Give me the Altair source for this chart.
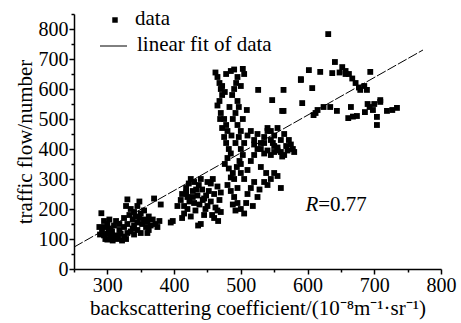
import altair as alt
import pandas as pd

# ---- data ----
bx = [291,288,292,295,297,300,302,300,305,307,303,310,312,315,318,320,322,325,300,308,295,313,318,325,328,330,296,305,289,316,
      330,328,335,333,338,340,342,345,340,348,350,352,345,355,358,350,360,362,365,368,370,372,375,380,378,340,335,345,348,355,360,325,330,338,362,
      395,398,410,412,415,418,420,422,425,428,430,432,435,437,440,436,438,442,445,447,450,452,455,457,460,462,465,468,470,415,420,425,428,433,440,445,450,455,460,465,430,423,448,458,466,470,405,412,418,443,
      462,465,468,470,472,468,465,470,475,478,472,480,475,478,482,485,480,476,482,488,485,490,472,478,485,490,495,493,490,487,495,497,492,488,495,500,497,492,500,503,498,494,500,505,500,483,476,469,486,503,
      480,485,490,495,500,505,510,515,520,525,530,535,540,545,550,555,560,505,510,515,520,525,530,535,540,545,550,555,505,510,515,520,500,495,488,492,508,518,528,538,
      530,535,540,545,550,555,560,565,568,570,575,578,560,565,550,545,555,540,525,520,535,580,572,562,548,
      631,602,619,637,641,652,657,662,667,672,677,679,694,590,607,564,564,592,609,615,624,634,644,661,668,674,665,689,686,693,700,709,709,704,719,727,734,704,503,526,509,547,562,590,612,657,648,685,690,698]
by = [186,140,128,112,100,150,135,118,108,125,165,145,112,100,130,118,95,108,98,95,160,160,150,140,100,120,140,130,115,105,
      232,210,200,180,165,190,175,155,145,170,185,150,130,165,140,120,158,175,145,165,235,150,140,215,160,115,125,210,225,195,120,170,150,135,130,
      155,160,230,250,210,270,240,285,300,260,220,195,245,280,150,145,215,265,235,200,290,260,225,180,250,205,275,230,190,185,200,175,240,265,300,180,210,285,170,195,290,225,245,300,160,255,210,170,255,230,
      655,640,620,600,580,560,545,520,500,480,470,460,440,420,400,385,370,350,335,320,305,300,610,650,660,665,640,620,600,580,560,540,520,500,480,460,440,420,400,380,360,340,320,650,610,540,590,500,445,500,
      280,260,240,220,200,185,250,270,290,240,340,290,280,300,320,310,270,300,330,360,380,400,420,440,460,430,410,395,420,445,460,430,350,270,215,195,220,210,265,320,
      400,385,395,380,390,405,390,380,410,395,415,400,430,450,445,460,470,470,450,415,420,390,430,375,420,
      783,663,657,653,690,673,660,650,635,620,605,597,657,630,603,597,527,553,513,530,540,540,527,503,508,510,540,597,523,540,550,557,563,507,527,530,537,480,667,597,530,563,527,633,520,650,655,610,550,530]

fit_x = [250, 773]
fit_y = [73, 730]

x_major = [300, 400, 500, 600, 700, 800]
x_minor = [250, 350, 450, 550, 650, 750]
y_major = [0, 100, 200, 300, 400, 500, 600, 700, 800]
y_minor = [50, 150, 250, 350, 450, 550, 650, 750, 850]

r_x = [616]
r_y = [213]

FONT = "Liberation Serif"
FS = 20
TFS = 21

pts = pd.DataFrame({"x": bx, "y": by})
fit = pd.DataFrame({"x": fit_x, "y": fit_y})
ann = pd.DataFrame({"x": r_x, "y": r_y})

xs = alt.Scale(domain=[250, 800], nice=False, zero=False)
ys = alt.Scale(domain=[0, 850], nice=False, zero=False)

common = dict(labelFont=FONT, labelFontSize=FS, labelColor="black",
              titleFont=FONT, titleFontSize=TFS, titleFontWeight="normal", titleColor="black",
              domainColor="black", domainWidth=1.5, tickColor="black", tickWidth=1.5, grid=False)

xaxis = alt.Axis(values=x_major, title="backscattering coefficient/(10⁻⁸m⁻¹·sr⁻¹)", orient="bottom",
                 tickSize=5, labelPadding=1, titlePadding=2, labelOverlap=False, labelFlush=False, **common)
yaxis = alt.Axis(values=y_major, title="traffic flow/number", orient="left",
                 tickSize=5, labelPadding=1, titlePadding=3, labelOverlap=False, labelFlush=False, **common)
xminor = alt.Axis(values=x_minor, title="", orient="bottom", labels=False, domain=False, tickSize=3,
                  tickColor="black", tickWidth=1.5, grid=False)
yminor = alt.Axis(values=y_minor, title="", orient="left", labels=False, domain=False, tickSize=3,
                  tickColor="black", tickWidth=1.5, grid=False)

points = alt.Chart(pts).mark_square(size=34, color="black", opacity=1).encode(
    x=alt.X("x:Q", scale=xs, axis=xaxis),
    y=alt.Y("y:Q", scale=ys, axis=yaxis),
)

line = alt.Chart(fit).mark_line(color="black", strokeWidth=1, strokeDash=[10, 2]).encode(
    x=alt.X("x:Q", scale=xs, axis=xminor), y=alt.Y("y:Q", scale=ys, axis=yminor)
)

r1 = alt.Chart(ann).mark_text(text="R", font=FONT, fontSize=TFS, fontStyle="italic", align="right",
                              baseline="middle", color="black").encode(
    x=alt.X("x:Q", scale=xs, axis=None), y=alt.Y("y:Q", scale=ys, axis=None))
r2 = alt.Chart(ann).mark_text(text="=0.77", font=FONT, fontSize=TFS, align="left",
                              baseline="middle", color="black").encode(
    x=alt.X("x:Q", scale=xs, axis=None), y=alt.Y("y:Q", scale=ys, axis=None))

# legend (decoration, placed in pixels)
leg_sq = alt.Chart(ann).mark_square(size=30, color="black", opacity=1).encode(
    x=alt.value(41), y=alt.value(6))
leg_t1 = alt.Chart(ann).mark_text(text="data", font=FONT, fontSize=TFS, align="left",
                                  baseline="middle", color="black").encode(
    x=alt.value(61), y=alt.value(5))
leg_ln = alt.Chart(ann).mark_rule(color="black", strokeWidth=1).encode(
    x=alt.value(26), x2=alt.value(53), y=alt.value(32))
leg_t2 = alt.Chart(ann).mark_text(text="linear fit of data", font=FONT, fontSize=TFS, align="left",
                                  baseline="middle", color="black").encode(
    x=alt.value(63), y=alt.value(31))

chart = alt.layer(points, line, r1, r2, leg_sq, leg_t1, leg_ln, leg_t2).resolve_axis(
    x="independent", y="independent"
).properties(
    width=367, height=255,
    autosize=alt.AutoSizeParams(type="none"),
    padding={"left": 74, "top": 14, "right": 20, "bottom": 54},
    background="white",
).configure_view(stroke=None)

chart.save("out.html", embed_options={"renderer": "svg", "actions": False})
